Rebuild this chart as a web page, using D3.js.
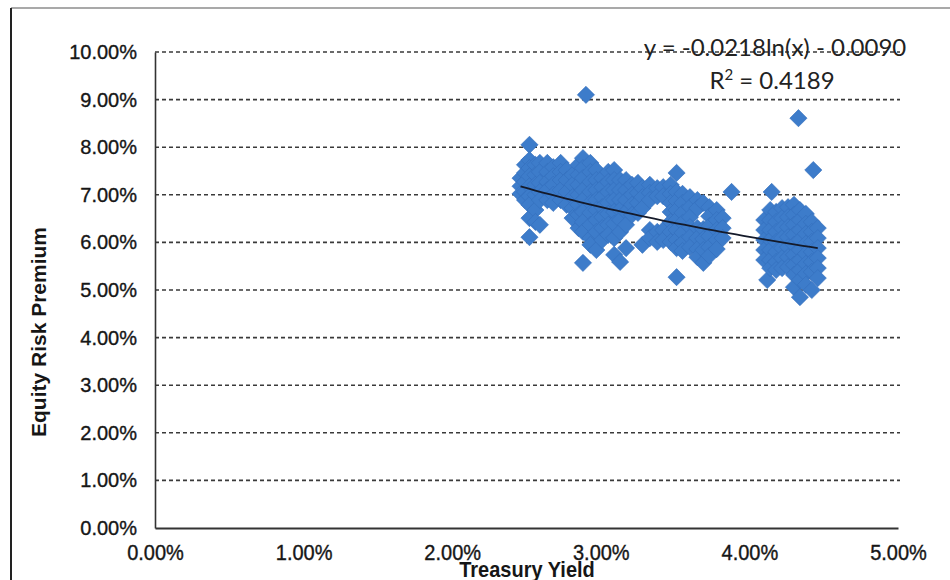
<!DOCTYPE html>
<html>
<head>
<meta charset="utf-8">
<script src="https://cdn.jsdelivr.net/npm/d3@7"></script>
<style>
  html, body { margin: 0; padding: 0; background: #fff; }
  svg { display: block; }
</style>
</head>
<body>
<svg id="chart" width="950" height="580"></svg>
<script>
// Treasury yield (%) of each column of observations
const yieldPct = [
  2.46, 2.49, 2.52, 2.56, 2.59, 2.64, 2.68, 2.73, 2.77, 2.81,
  2.85, 2.88, 2.90, 2.93, 2.97, 3.01, 3.05, 3.09, 3.13, 3.17,
  3.21, 3.25, 3.28, 3.33, 3.38, 3.42, 3.47, 3.51, 3.55, 3.60,
  3.65, 3.69, 3.73, 3.78, 3.82, 3.88, 4.10, 4.12, 4.14, 4.15,
  4.18, 4.22, 4.26, 4.30, 4.33, 4.34, 4.38, 4.42, 4.43, 4.46
];
// Equity risk premium (%) observed at each of those yields
const premiumPct = [
  [7.35, 7.18, 7.02],
  [7.63, 7.46, 7.27, 7.06, 6.89],
  [8.05, 7.73, 7.56, 7.39, 7.18, 6.97, 6.79, 6.51, 6.11],
  [7.63, 7.42, 7.21, 7.00, 6.68, 6.43],
  [7.67, 7.48, 7.25, 7.06, 6.89, 6.37],
  [7.67, 7.48, 7.27, 7.10, 6.89],
  [7.58, 7.39, 7.21, 7.00, 6.83],
  [7.67, 7.48, 7.31, 7.10, 6.89],
  [7.52, 7.31, 7.06, 6.79],
  [7.42, 7.21, 6.95, 6.72, 6.51],
  [7.63, 7.42, 7.21, 7.00, 6.79, 6.58, 6.30],
  [7.77, 7.56, 7.35, 7.10, 6.89, 6.64, 6.43, 6.22, 5.57],
  [9.10],
  [7.67, 7.48, 7.27, 7.06, 6.83, 6.62, 6.37, 6.09, 5.95],
  [7.52, 7.31, 7.10, 6.89, 6.68, 6.47, 6.22, 5.84],
  [7.35, 7.16, 6.95, 6.74, 6.53, 6.30, 6.05],
  [7.48, 7.27, 7.06, 6.83, 6.60, 6.37, 6.16],
  [7.52, 7.31, 7.10, 6.89, 6.64, 6.39, 6.09, 5.74],
  [7.31, 7.10, 6.89, 6.68, 6.47, 6.22, 5.59],
  [7.31, 7.10, 6.89, 6.64, 6.37, 5.88],
  [7.21, 7.00, 6.79, 6.58],
  [7.25, 7.04, 6.83, 6.62],
  [7.14, 6.95, 6.72, 5.95],
  [7.21, 7.04, 6.89, 6.26, 6.09],
  [7.14, 6.97, 6.22, 6.01],
  [7.16, 6.97, 6.26, 6.05],
  [7.21, 7.02, 6.83, 6.64, 6.43, 6.22, 6.01],
  [7.46, 7.06, 6.87, 6.68, 6.47, 6.26, 6.05, 5.88, 5.27],
  [7.02, 6.83, 6.62, 6.41, 6.20, 5.99, 5.82],
  [6.95, 6.74, 6.53, 6.32, 6.11, 5.90],
  [6.89, 6.72, 6.30, 6.09, 5.86, 5.69],
  [6.83, 6.28, 6.07, 5.84, 5.57],
  [6.74, 6.55, 6.34, 6.13, 5.90, 5.72],
  [6.68, 6.47, 6.26, 6.05, 5.86],
  [6.51, 6.30, 6.09],
  [7.06],
  [6.47, 6.26, 6.05, 5.84, 5.63],
  [5.21],
  [6.68, 6.47, 6.26, 6.05, 5.84, 5.63, 5.46],
  [7.06],
  [6.64, 6.43, 6.22, 6.01, 5.80, 5.59, 5.42],
  [6.72, 6.51, 6.30, 6.09, 5.88, 5.67, 5.46],
  [6.74, 6.53, 6.32, 6.11, 5.90, 5.69, 5.48],
  [6.79, 6.58, 6.37, 6.16, 5.95, 5.74, 5.53, 5.32, 5.06],
  [8.61],
  [6.68, 6.47, 6.26, 6.05, 5.84, 5.63, 5.42, 5.21, 4.85],
  [6.60, 6.39, 6.18, 5.97, 5.76, 5.55, 5.34, 5.11],
  [6.43, 6.22, 6.01, 5.80, 5.59, 5.38, 5.00],
  [7.52],
  [6.30, 6.09, 5.88, 5.67, 5.46, 5.25]
];
const xTickValues = [0, 1, 2, 3, 4, 5];
const yTickValues = [0, 1, 2, 3, 4, 5, 6, 7, 8, 9, 10];

// Logarithmic trendline: premium = slope * ln(yield) + intercept (as fractions)
const trendSlope = -0.0218;
const trendIntercept = -0.0090;
const trendR2 = 0.4189;

const points = [];
yieldPct.forEach((xv, i) => premiumPct[i].forEach(yv => points.push({ x: xv, y: yv })));

const svg = d3.select("#chart");
const x = d3.scaleLinear().domain([0, 5]).range([155, 898]);
const y = d3.scaleLinear().domain([0, 10]).range([528, 52]);
const pct = v => v.toFixed(2) + "%";
const font = "'Liberation Sans', Arial, sans-serif";
const ink = "#161616";

// outer frame edges
svg.append("line").attr("x1", 11).attr("x2", 950).attr("y1", 8).attr("y2", 8)
  .attr("stroke", "#8c8c8c").attr("stroke-width", 1.5);
svg.append("line").attr("x1", 11).attr("x2", 11).attr("y1", 8).attr("y2", 580)
  .attr("stroke", "#222").attr("stroke-width", 2);

// dashed horizontal gridlines
svg.append("g").selectAll("line")
  .data(yTickValues.filter(v => v > 0))
  .join("line")
  .attr("x1", x(0)).attr("x2", x(5) + 2)
  .attr("y1", d => y(d)).attr("y2", d => y(d))
  .attr("stroke", "#3a3a3a").attr("stroke-width", 1.6)
  .attr("stroke-dasharray", "4,3");

// axes
const yAxis = d3.axisLeft(y).tickValues(yTickValues).tickFormat(pct).tickSize(0).tickPadding(18);
const gy = svg.append("g").attr("transform", `translate(${x(0)},0)`).call(yAxis);
gy.select(".domain").attr("stroke", "#333").attr("stroke-width", 1.6);
gy.selectAll("text").attr("font-family", font).attr("font-size", 20)
  .attr("fill", ink).attr("stroke", ink).attr("stroke-width", 0.35);

const xAxis = d3.axisBottom(x).tickValues(xTickValues).tickFormat(pct).tickSize(0).tickPadding(14);
const gx = svg.append("g").attr("transform", `translate(0,${y(0)})`).call(xAxis);
gx.select(".domain").attr("stroke", "#333").attr("stroke-width", 1.8);
gx.selectAll("text").attr("font-family", font).attr("font-size", 20)
  .attr("fill", ink).attr("stroke", ink).attr("stroke-width", 0.35)
  .attr("transform", "translate(0,2) scale(1,1.08)");

// scatter markers (diamonds)
const diamond = d3.symbol().type(d3.symbolSquare).size(148);
svg.append("g").selectAll("path")
  .data(points)
  .join("path")
  .attr("d", diamond)
  .attr("transform", d => `translate(${x(d.x)},${y(d.y)}) rotate(45)`)
  .attr("fill", "#3d7cca")
  .attr("stroke", "#346fbc")
  .attr("stroke-width", 0.6);

// trendline over the observed yield range
const [xmin, xmax] = d3.extent(points, d => d.x);
const trendXs = d3.range(0, 41).map(i => xmin + (xmax - xmin) * i / 40);
const trend = d3.line()
  .x(d => x(d))
  .y(d => y((trendSlope * Math.log(d / 100) + trendIntercept) * 100));
svg.append("path").datum(trendXs)
  .attr("d", trend)
  .attr("fill", "none")
  .attr("stroke", "#141a2a")
  .attr("stroke-width", 1.8);

// trendline equation
const eqFont = "Lato, 'Open Sans', sans-serif";
svg.append("text")
  .attr("x", 775).attr("y", 56)
  .attr("text-anchor", "middle")
  .attr("font-family", eqFont).attr("font-size", 24).attr("fill", "#222")
  .text(`y = ${trendSlope.toFixed(4)}ln(x) - ${Math.abs(trendIntercept).toFixed(4)}`);
const r2 = svg.append("text")
  .attr("x", 772).attr("y", 89)
  .attr("text-anchor", "middle")
  .attr("font-family", eqFont).attr("font-size", 24).attr("fill", "#222");
r2.append("tspan").text("R");
r2.append("tspan").attr("dy", -9).attr("font-size", 15).text("2");
r2.append("tspan").attr("dy", 9).text(` = ${trendR2.toFixed(4)}`);

// axis titles
svg.append("text")
  .attr("transform", "translate(46,332) rotate(-90)")
  .attr("text-anchor", "middle")
  .attr("font-family", font).attr("font-size", 21).attr("font-weight", "bold").attr("fill", ink)
  .text("Equity Risk Premium");
svg.append("text")
  .attr("transform", "translate(527,577) scale(1,1.12)")
  .attr("text-anchor", "middle")
  .attr("font-family", font).attr("font-size", 20).attr("font-weight", "bold").attr("fill", ink)
  .text("Treasury Yield");
</script>
</body>
</html>
